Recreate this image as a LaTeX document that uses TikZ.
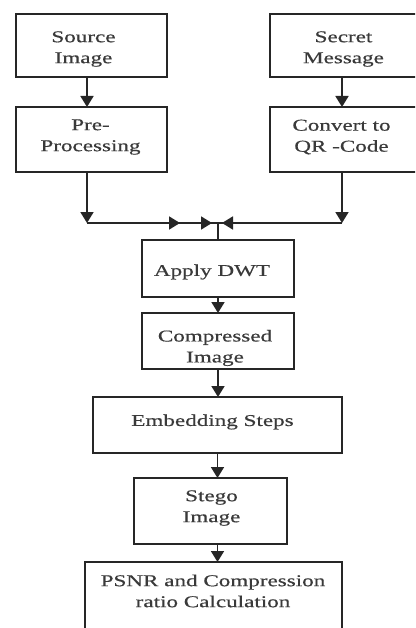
\documentclass[tikz,border=0pt]{standalone}
\usepackage{fontspec}
\setmainfont{Liberation Serif}[FakeStretch=1.4,FakeBold=0.5]
\usetikzlibrary{arrows.meta,decorations.markings,calc}
\definecolor{ln}{HTML}{262626}
\definecolor{tx}{HTML}{3A3A3A}
\tikzset{
  box/.style={draw=ln, line width=1.8pt, fill=white, inner sep=0pt, outer sep=0pt},
  txt/.style={text=tx, font=\fontsize{16.5}{21}\selectfont, align=center, inner sep=0pt},
  arr/.style={draw=ln, line width=1.8pt, -{Triangle[length=11pt,width=13pt]}},
  ln/.style={draw=ln, line width=1.8pt},
}
\begin{document}
\begin{tikzpicture}[x=1pt,y=-1pt]
\useasboundingbox (0,0) rectangle (415,628);
\clip (0,0) rectangle (415,628);
\fill[white] (0,0) rectangle (415,628);
% boxes
\node[box, minimum width=151pt, minimum height=63pt,
  label={[txt,xshift=-8pt,yshift=-3.5pt]center:Source\\Image}] (src) at (91.5,45.5) {};
\node[box, minimum width=151pt, minimum height=65pt,
  label={[txt,xshift=-1pt,yshift=2.5pt]center:Pre-\\Processing}] (pre) at (91.5,139.5) {};
\node[box, minimum width=151pt, minimum height=63pt,
  label={[txt,xshift=-2pt,yshift=-3.5pt]center:Secret\\Message}] (sec) at (345.5,45.5) {};
\node[box, minimum width=151pt, minimum height=65pt,
  label={[txt,xshift=-4pt,yshift=2.5pt]center:Convert to\\QR -Code}] (qr) at (345.5,139.5) {};
\node[box, minimum width=152pt, minimum height=57pt,
  label={[txt,xshift=-6pt,yshift=-3.5pt]center:Apply DWT}] (dwt) at (218,268.5) {};
\node[box, minimum width=152pt, minimum height=56pt,
  label={[txt,xshift=-3pt,yshift=-7pt]center:Compressed\\Image}] (cmp) at (218,341) {};
\node[box, minimum width=249pt, minimum height=56pt,
  label={[txt,xshift=-5pt,yshift=3pt]center:Embedding Steps}] (emb) at (217.5,425) {};
\node[box, minimum width=153pt, minimum height=66pt,
  label={[txt,xshift=1pt,yshift=3pt]center:Stego\\Image}] (stg) at (210.5,511) {};
\node[box, minimum width=257pt, minimum height=90pt,
  label={[txt,xshift=-0.5pt,yshift=16pt]center:PSNR and Compression\\ratio Calculation}] (psnr) at (213.5,607) {};
% junction points
\coordinate (j) at (218,223);
\coordinate (jl) at ([xshift=-4.5pt]pre.south |- j);
\coordinate (jr) at ([xshift=-3.5pt]qr.south |- j);
% connectors
\draw[arr] ([xshift=-4.5pt]src.south) -- ([xshift=-4.5pt]src.south |- pre.north);
\draw[arr] ([xshift=-3.5pt]sec.south) -- ([xshift=-3.5pt]sec.south |- qr.north);
\draw[arr] ([xshift=-4.5pt]pre.south) -- (jl);
\draw[arr] ([xshift=-3.5pt]qr.south) -- (jr);
\draw[ln, postaction={decorate}, decoration={markings,
   mark=at position 93pt with {\arrow{Triangle[length=11pt,width=13pt]}},
   mark=at position 125pt with {\arrow{Triangle[length=11pt,width=13pt]}}}] (jl) -- (j);
\draw[ln, postaction={decorate}, decoration={markings,
   mark=at position 120pt with {\arrow{Triangle[length=11pt,width=13pt]}}}] (jr) -- (j);
\draw[ln] (j) -- (dwt.north);
\draw[arr] (dwt.south) -- (cmp.north);
\draw[arr] (cmp.south) -- (cmp.south |- emb.north);
\draw[arr] (emb.south) -- (emb.south |- stg.north);
\draw[arr] (emb.south |- stg.south) -- (emb.south |- psnr.north);
\end{tikzpicture}
\end{document}
